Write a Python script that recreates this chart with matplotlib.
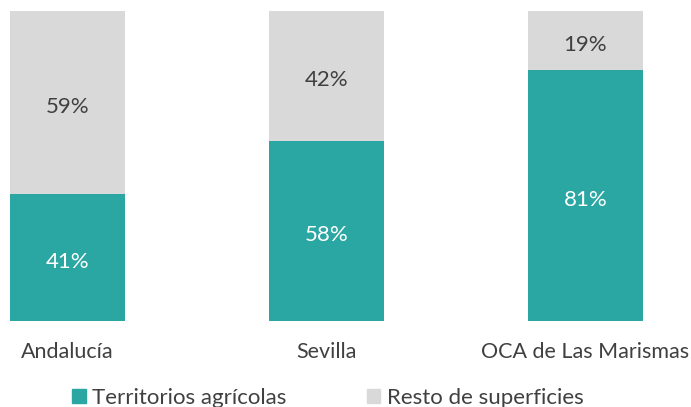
import matplotlib
matplotlib.use("Agg")
import matplotlib.pyplot as plt
from matplotlib.patches import Patch

categories = ["Andalucía", "Sevilla", "OCA de Las Marismas"]
agricola = [41, 58, 81]
resto = [59, 42, 19]
series_names = ["Territorios agrícolas", "Resto de superficies"]

TEAL = "#2aa7a2"
GREY = "#d9d9d9"

plt.rcParams["font.family"] = ["Lato", "DejaVu Sans"]

fig = plt.figure(figsize=(6.91, 4.07), dpi=100)
ax = fig.add_axes([0, 1 - 321 / 407, 1, 310 / 407])

x = list(range(len(categories)))
w = 115 / 259
ax.bar(x, agricola, width=w, color=TEAL)
ax.bar(x, resto, width=w, bottom=agricola, color=GREY)

# value labels, nudged down a little like the original
for i in x:
    ax.annotate(f"{agricola[i]}%", (i, agricola[i] / 2), xytext=(0, -3),
                textcoords="offset points", ha="center", va="center",
                color="white", fontsize=16)
    ax.annotate(f"{resto[i]}%", (i, agricola[i] + resto[i] / 2), xytext=(0, -3),
                textcoords="offset points", ha="center", va="center",
                color="#404040", fontsize=16)

ax.set_xlim(-67.5 / 259, (691 - 67.5) / 259)
ax.set_ylim(0, 100)
ax.set_xticks(x)
ax.set_xticklabels(categories, fontsize=15.5, color="#404040")
ax.tick_params(axis="x", length=0, pad=15)
ax.set_yticks([])
for s in ax.spines.values():
    s.set_visible(False)

handles = [Patch(color=TEAL), Patch(color=GREY)]
fig.legend(handles, series_names, loc="center", bbox_to_anchor=(328 / 691, 1 - 398 / 407),
           ncol=2, frameon=False, fontsize=16, handlelength=0.6, handleheight=0.6,
           handletextpad=0.3, columnspacing=3.6, labelcolor="#404040")

fig.savefig("out.png", dpi=100)
